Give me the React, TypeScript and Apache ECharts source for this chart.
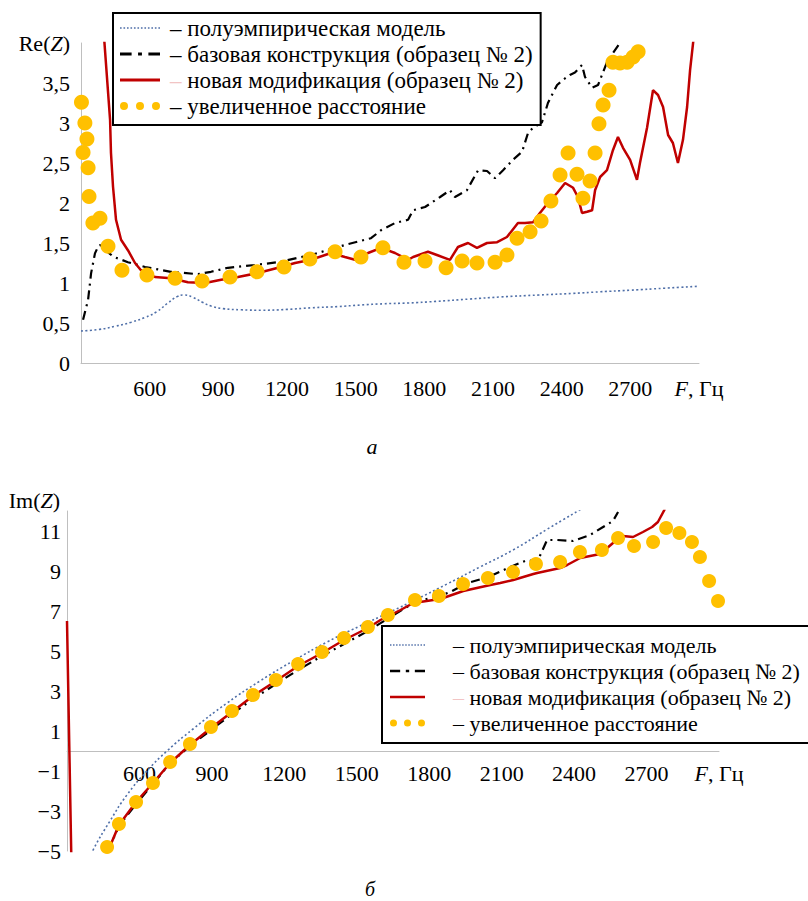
import React, { useEffect, useRef } from 'react';
import * as echarts from 'echarts';

// ---------- names ----------
const seriesNames = [
  'полуэмпирическая модель',
  'базовая конструкция (образец № 2)',
  'новая модификация (образец № 2)',
  'увеличенное расстояние',
];

// ---------- axis ticks ----------
const freqMin = 300;
const freqMax = 3000;
const freqStep = 300;
const reMin = 0;
const reMax = 4;
const reStep = 0.5;
const imMin = -5;
const imMax = 12;

// ---------- (а) Re(Z): [F, Re] ----------
const reModel: number[][] = [
  [300, 0.4], [380, 0.42], [450, 0.46], [520, 0.51], [580, 0.57], [630, 0.64], [680, 0.75],
  [720, 0.83], [750, 0.85], [790, 0.82], [830, 0.76], [870, 0.71], [920, 0.68], [1000, 0.665],
  [1090, 0.66], [1200, 0.67], [1305, 0.69], [1420, 0.705], [1523, 0.725], [1620, 0.74],
  [1729, 0.75], [1850, 0.77], [2000, 0.8], [2131, 0.825], [2300, 0.85], [2450, 0.87],
  [2567, 0.89], [2700, 0.91], [2850, 0.935], [3000, 0.96],
];

const reBase: number[][] = [
  [309, 0.54], [331, 0.79], [344, 1.12], [361, 1.37], [374, 1.45], [383, 1.475], [440, 1.33],
  [505, 1.26], [580, 1.2], [693, 1.14], [811, 1.11], [868, 1.14], [942, 1.19], [1060, 1.225],
  [1161, 1.26], [1305, 1.35], [1453, 1.475], [1567, 1.56], [1611, 1.66], [1672, 1.75],
  [1729, 1.79], [1751, 1.91], [1803, 1.95], [1869, 2.075], [1912, 2.16], [1934, 2.075],
  [1986, 2.16], [2035, 2.41], [2074, 2.4], [2109, 2.31], [2144, 2.41], [2187, 2.54],
  [2227, 2.64], [2253, 2.875], [2275, 2.94], [2314, 3.01], [2340, 3.25], [2380, 3.475],
  [2406, 3.54], [2436, 3.6], [2458, 3.63], [2489, 3.725], [2502, 3.575], [2533, 3.44],
  [2559, 3.475], [2576, 3.6], [2598, 3.76], [2624, 3.875], [2655, 4.0],
];

const reNew: number[][] = [
  [400, 4.1], [427, 3.04], [431, 2.625], [440, 2.2], [453, 1.79], [475, 1.54], [505, 1.41],
  [536, 1.25], [562, 1.16], [623, 1.075], [693, 1.06], [767, 1.01], [842, 1.0], [912, 1.04],
  [986, 1.075], [1073, 1.125], [1161, 1.19], [1235, 1.25], [1305, 1.29], [1392, 1.375],
  [1453, 1.325], [1497, 1.29], [1554, 1.375], [1611, 1.44], [1672, 1.375], [1729, 1.29],
  [1751, 1.325], [1816, 1.39], [1855, 1.35], [1912, 1.29], [1947, 1.45], [1991, 1.5],
  [2030, 1.44], [2074, 1.5], [2118, 1.51], [2161, 1.575], [2209, 1.75], [2240, 1.75],
  [2275, 1.76], [2305, 1.875], [2340, 2.0], [2380, 2.125], [2415, 2.25], [2450, 2.19],
  [2471, 2.075], [2489, 1.875], [2511, 1.89], [2533, 1.91], [2546, 2.16], [2568, 2.325],
  [2598, 2.41], [2624, 2.66], [2646, 2.825], [2668, 2.69], [2699, 2.54], [2729, 2.29],
  [2742, 2.5], [2773, 2.94], [2799, 3.41], [2821, 3.35], [2843, 3.2], [2865, 2.85],
  [2886, 2.75], [2908, 2.5], [2930, 2.79], [2948, 3.2], [2961, 3.66], [2978, 4.1],
];

const reWide: number[][] = [
  [302, 3.26], [309, 2.63], [317, 3.0], [326, 2.8], [331, 2.44], [335, 2.08], [352, 1.75],
  [383, 1.81], [418, 1.46], [479, 1.16], [588, 1.1], [711, 1.06], [829, 1.025], [951, 1.075],
  [1069, 1.14], [1187, 1.2], [1300, 1.3], [1410, 1.39], [1523, 1.325], [1619, 1.44],
  [1711, 1.26], [1803, 1.275], [1895, 1.19], [1965, 1.275], [2030, 1.25], [2109, 1.26],
  [2161, 1.35], [2205, 1.56], [2262, 1.64], [2310, 1.775], [2353, 2.025], [2393, 2.35],
  [2428, 2.625], [2467, 2.36], [2493, 2.06], [2524, 2.275], [2546, 2.625], [2563, 2.99],
  [2581, 3.225], [2607, 3.41], [2624, 3.76], [2655, 3.75], [2686, 3.76], [2712, 3.825],
  [2734, 3.89],
];

// ---------- (б) Im(Z): [F, Im] ----------
const imModel: number[][] = [
  [395, -5.4], [408, -4.95], [478, -3.5], [548, -2.2], [631, -1.0], [714, 0.0], [822, 1.1],
  [963, 2.4], [1099, 3.5], [1236, 4.5], [1377, 5.45], [1513, 6.25], [1638, 6.95], [1750, 7.6],
  [1874, 8.35], [2010, 9.2], [2147, 10.05], [2290, 11.1], [2437, 12.15],
];

const imBase: number[][] = [
  [470, -5.0], [515, -3.75], [586, -2.65], [656, -1.65], [727, -0.6], [809, 0.25], [896, 1.05],
  [983, 1.85], [1070, 2.6], [1165, 3.35], [1257, 4.05], [1356, 4.75], [1447, 5.35],
  [1546, 6.0], [1640, 6.7], [1741, 7.45], [1840, 7.75], [1887, 7.95], [1958, 8.4],
  [2045, 8.7], [2135, 9.2], [2206, 9.55], [2247, 9.45], [2288, 10.55], [2330, 10.55],
  [2396, 10.5], [2466, 10.8], [2520, 11.2], [2561, 11.5], [2582, 11.95],
];

const imNew: number[][] = [
  [300, 6.5], [325, -10], [470, -5.0], [515, -3.7], [586, -2.55], [656, -1.6], [727, -0.6],
  [809, 0.3], [896, 1.15], [983, 1.95], [1070, 2.75], [1165, 3.5], [1257, 4.25], [1356, 4.9],
  [1447, 5.55], [1546, 6.15], [1598, 6.55], [1681, 7.05], [1734, 7.4], [1817, 7.55],
  [1846, 7.6], [1941, 8.0], [2053, 8.3], [2094, 8.4], [2148, 8.55], [2231, 8.85],
  [2247, 8.9], [2342, 9.15], [2371, 9.3], [2425, 9.65], [2508, 9.85], [2561, 10.4],
  [2603, 10.75], [2644, 10.7], [2685, 10.95], [2723, 11.2], [2747, 11.45], [2776, 12.1],
];

const imWide: number[][] = [
  [466, -4.8], [515, -3.65], [586, -2.55], [656, -1.6], [727, -0.55], [809, 0.35], [896, 1.2],
  [983, 2.0], [1070, 2.8], [1165, 3.55], [1257, 4.35], [1356, 4.95], [1447, 5.65],
  [1546, 6.2], [1629, 6.8], [1741, 7.55], [1840, 7.75], [1940, 8.35], [2043, 8.65],
  [2147, 8.95], [2242, 9.35], [2342, 9.45], [2424, 9.95], [2515, 10.05], [2582, 10.65],
  [2648, 10.25], [2727, 10.45], [2781, 11.15], [2836, 10.9], [2888, 10.45], [2921, 9.7],
  [2959, 8.5], [2996, 7.5],
];

const FONT = 'Liberation Serif';
const BLUE = '#4f6fa8';
const RED = '#c00000';
const GOLD = '#ffc000';
const AXIS = '#bfbfbf';

// legend icons (filled shapes)
const dottedIcon =
  'path://' +
  [0, 1, 2, 3, 4, 5, 6, 7, 8, 9, 10, 11]
    .map((k) => `M${(k * 3.4).toFixed(1)},0h1.6v1.6h-1.6Z`)
    .join(' ');
const dashDotIcon = 'path://M0,0h9v2.4h-9Z M14,0h3v2.4h-3Z M22,0h9v2.4h-9Z';
const solidIcon = 'path://M0,0h40v2.8h-40Z';
const dotsIcon =
  'path://M0,4a4,4 0 1,0 8,0a4,4 0 1,0 -8,0Z M16,4a4,4 0 1,0 8,0a4,4 0 1,0 -8,0Z M32,4a4,4 0 1,0 8,0a4,4 0 1,0 -8,0Z';

const richBase = {
  i: { fontFamily: FONT, fontStyle: 'italic', fontSize: 22, color: '#000' },
  n: { fontFamily: FONT, fontSize: 22, color: '#000' },
};

function xAxisCfg(gridIndex: number, margin: number, offset: number) {
  return {
    type: 'value',
    gridIndex,
    min: freqMin,
    max: freqMax,
    interval: freqStep,
    offset,
    axisLine: { show: true, onZero: false, lineStyle: { color: AXIS, width: 1 } },
    axisTick: { show: false },
    splitLine: { show: false },
    axisLabel: {
      margin,
      fontFamily: FONT,
      fontSize: 22,
      color: '#000',
      showMinLabel: true,
      showMaxLabel: true,
      formatter: (v: number) => (v === freqMax ? '{i|F}{n|, Гц}' : v === freqMin ? '' : String(v)),
      rich: richBase,
    },
  };
}

function legendCfg(
  left: number, top: number, padding: number[], itemWidth: number, textPad: number, fontSize: number,
) {
  return {
    orient: 'vertical',
    left,
    top,
    padding,
    itemGap: 2,
    itemWidth,
    itemHeight: 14,
    selectedMode: false,
    borderColor: '#000',
    borderWidth: 2,
    backgroundColor: '#fff',
    itemStyle: { borderWidth: 0 },
    textStyle: {
      fontFamily: FONT,
      fontSize,
      lineHeight: 24,
      color: '#000',
      padding: [0, 0, 0, textPad],
      rich: {
        p: { fontFamily: FONT, fontSize, lineHeight: 24, color: '#f2c4c4' },
        t: { fontFamily: FONT, fontSize, lineHeight: 24, color: '#000' },
      },
    },
    formatter: (name: string) =>
      name === seriesNames[2] ? '{p|–}{t| ' + name + '}' : '– ' + name,
    data: [
      { name: seriesNames[0], icon: dottedIcon },
      { name: seriesNames[1], icon: dashDotIcon },
      { name: seriesNames[2], icon: solidIcon },
      { name: seriesNames[3], icon: dotsIcon },
    ],
  };
}

function seriesFor(idx: number, model: number[][], base: number[][], nw: number[][], wide: number[][], dot: number) {
  return [
    {
      name: seriesNames[0], type: 'line', xAxisIndex: idx, yAxisIndex: idx, data: model,
      symbol: 'none', smooth: true, color: BLUE,
      lineStyle: { color: BLUE, width: 1.6, type: [2, 2.5] }, z: 2,
    },
    {
      name: seriesNames[1], type: 'line', xAxisIndex: idx, yAxisIndex: idx, data: base,
      symbol: 'none', color: '#000',
      lineStyle: { color: '#000', width: 2.2, type: [9, 5, 2, 5] }, z: 3,
    },
    {
      name: seriesNames[2], type: 'line', xAxisIndex: idx, yAxisIndex: idx, data: nw,
      symbol: 'none', color: RED,
      lineStyle: { color: RED, width: 2.5 }, z: 4,
    },
    {
      name: seriesNames[3], type: 'scatter', xAxisIndex: idx, yAxisIndex: idx, data: wide,
      symbol: 'circle', symbolSize: dot, color: GOLD, itemStyle: { color: GOLD, opacity: 1 }, z: 5,
    },
  ];
}

export default function App() {
  const ref = useRef<HTMLDivElement>(null);

  useEffect(() => {
    if (!ref.current) return;
    const chart = echarts.init(ref.current, undefined, { renderer: 'svg' });
    const option: any = {
      animation: false,
      backgroundColor: '#fff',
      grid: [
        { left: 81, top: 43, width: 618, height: 320 },
        { left: 67, top: 511, width: 652, height: 340 },
      ],
      xAxis: [xAxisCfg(0, 14, 0), xAxisCfg(1, 11, -100)],
      yAxis: [
        {
          type: 'value', gridIndex: 0, min: reMin, max: reMax, interval: reStep,
          axisLine: { show: true, lineStyle: { color: AXIS, width: 1 } },
          axisTick: { show: false }, splitLine: { show: false },
          axisLabel: {
            margin: 11, fontFamily: FONT, fontSize: 22, color: '#000',
            formatter: (v: number) => (v === reMax ? '{n|Re(}{i|Z}{n|)}' : String(v).replace('.', ',')),
            rich: richBase,
          },
        },
        {
          type: 'value', gridIndex: 1, min: imMin, max: imMax, interval: 1,
          axisLine: { show: true, onZero: false, lineStyle: { color: AXIS, width: 1 } },
          axisTick: { show: false }, splitLine: { show: false },
          axisLabel: {
            margin: 6, fontFamily: FONT, fontSize: 22, color: '#000',
            formatter: (v: number) =>
              Math.abs(v % 2) === 1 ? (v < 0 ? '−' + Math.abs(v) : String(v)) : '',
          },
        },
      ],
      legend: [
        legendCfg(113, 13, [3, 8, 7, 7], 40, 5, 23),
        legendCfg(382, 626, [7, 40, 8, 8], 35, 23, 22),
      ],
      graphic: [
        {
          type: 'text', x: 60, y: 500,
          style: {
            text: '{n|Im(}{i|Z}{n|)}', align: 'right', verticalAlign: 'middle',
            rich: richBase, fontFamily: FONT, fontSize: 22, fill: '#000',
          },
        },
        {
          type: 'text', x: 372, y: 446,
          style: { text: 'а', align: 'center', verticalAlign: 'middle', fontFamily: FONT, fontStyle: 'italic', fontSize: 22, fill: '#000' },
        },
        {
          type: 'text', x: 370, y: 889,
          style: { text: 'б', align: 'center', verticalAlign: 'middle', fontFamily: FONT, fontStyle: 'italic', fontSize: 20, fill: '#000' },
        },
      ],
      series: [
        ...seriesFor(0, reModel, reBase, reNew, reWide, 15),
        ...seriesFor(1, imModel, imBase, imNew, imWide, 14),
      ],
    };
    chart.setOption(option);
    return () => chart.dispose();
  }, []);

  return (
    <div
      ref={ref}
      style={{ position: 'fixed', left: 0, top: 0, width: 808, height: 901, background: '#fff' }}
    />
  );
}
